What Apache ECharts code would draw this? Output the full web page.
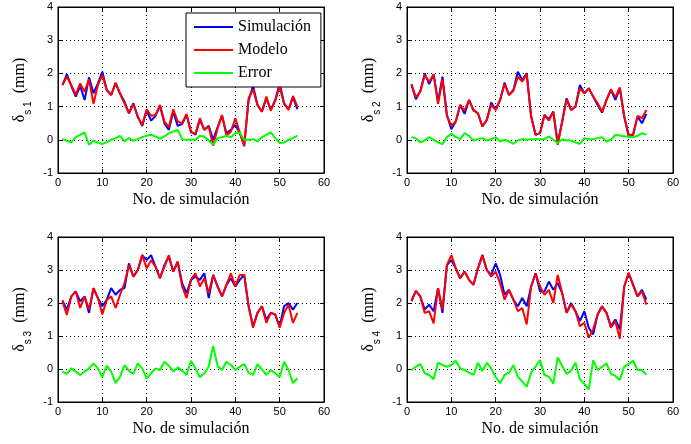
<!DOCTYPE html>
<html>
<head>
<meta charset="utf-8">
<script src="https://cdn.jsdelivr.net/npm/echarts@6/dist/echarts.min.js"></script>
<style>
  html, body {margin: 0; padding: 0; background: #fff;}
  #chart {width: 691px; height: 444px;}
</style>
</head>
<body>
<div id="chart"></div>
<script>
// simulation numbers run 1..54
const xTicks = [0, 10, 20, 30, 40, 50, 60];
const yTicks = [-1, 0, 1, 2, 3, 4];
const seriesNames = ['Simulación', 'Modelo', 'Error'];
const xTitle = 'No. de simulación';

const sim1 = [1.65, 1.97, 1.62, 1.3, 1.62, 1.2, 1.88, 1.4, 1.7, 2.05, 1.5, 1.35, 1.7, 1.4, 1.15, 0.8, 1.1, 0.7, 0.42, 0.88, 0.58, 0.72, 1.02, 0.5, 0.3, 0.85, 0.42, 0.48, 0.75, 0.25, 0.15, 0.6, 0.3, 0.42, 0.0, 0.38, 0.72, 0.2, 0.3, 0.45, 0.2, -0.15, 1.2, 1.62, 1.05, 0.85, 1.25, 0.9, 1.2, 1.7, 1.1, 0.92, 1.28, 0.92];
const mod1 = [1.65, 1.9, 1.65, 1.35, 1.7, 1.45, 1.82, 1.08, 1.65, 1.95, 1.5, 1.35, 1.72, 1.38, 1.1, 0.8, 1.08, 0.68, 0.45, 0.92, 0.72, 0.75, 1.05, 0.55, 0.38, 0.92, 0.55, 0.5, 0.78, 0.22, 0.18, 0.65, 0.3, 0.4, -0.18, 0.35, 0.75, 0.12, 0.25, 0.65, 0.22, -0.2, 1.25, 1.52, 1.05, 0.85, 1.3, 0.88, 1.18, 1.6, 1.08, 0.9, 1.32, 1.0];
const err1 = [0.03, -0.03, -0.08, 0.08, 0.15, 0.22, -0.15, -0.03, -0.08, -0.13, -0.07, 0.0, 0.05, 0.12, -0.05, 0.05, -0.03, 0.02, 0.08, 0.12, 0.15, 0.1, 0.03, 0.1, 0.2, 0.25, 0.3, 0.02, 0.0, 0.0, 0.0, 0.12, 0.1, -0.02, -0.15, 0.05, 0.08, 0.12, 0.08, 0.2, 0.22, 0.0, 0.0, 0.02, -0.05, 0.08, 0.15, 0.22, 0.05, -0.1, -0.08, 0.0, 0.05, 0.13];

const sim2 = [1.67, 1.22, 1.46, 2.0, 1.68, 1.97, 1.15, 1.9, 0.75, 0.32, 0.55, 1.05, 0.78, 1.2, 0.9, 0.8, 0.4, 0.6, 1.12, 0.9, 1.2, 1.72, 1.35, 1.5, 2.05, 1.8, 2.0, 0.7, 0.15, 0.2, 0.75, 0.62, 0.85, -0.1, 0.55, 1.25, 0.9, 1.0, 1.65, 1.4, 1.55, 1.3, 1.05, 0.82, 1.2, 1.5, 1.2, 1.55, 0.7, 0.1, 0.15, 0.7, 0.5, 0.78];
const mod2 = [1.67, 1.28, 1.45, 1.95, 1.75, 1.97, 1.08, 1.82, 0.72, 0.42, 0.55, 1.05, 0.88, 1.2, 0.88, 0.8, 0.4, 0.6, 1.05, 0.9, 1.2, 1.68, 1.35, 1.48, 1.9, 1.75, 1.98, 0.7, 0.15, 0.2, 0.75, 0.58, 0.85, -0.15, 0.55, 1.22, 0.9, 1.0, 1.55, 1.4, 1.55, 1.3, 1.1, 0.85, 1.2, 1.52, 1.28, 1.58, 0.7, 0.15, 0.15, 0.72, 0.65, 0.9];
const err2 = [0.08, 0.05, -0.08, -0.02, 0.08, 0.0, -0.08, -0.13, 0.08, 0.18, 0.08, 0.02, 0.2, 0.12, -0.02, 0.02, 0.05, -0.02, 0.02, 0.08, -0.05, 0.0, -0.05, -0.12, -0.02, 0.02, 0.0, 0.02, 0.02, 0.02, 0.02, 0.1, 0.0, -0.1, 0.02, -0.02, -0.02, -0.08, -0.12, 0.05, 0.02, 0.02, 0.05, 0.08, -0.05, 0.0, 0.15, 0.13, 0.1, 0.1, 0.08, 0.12, 0.2, 0.15];

const sim3 = [2.08, 1.8, 2.2, 2.35, 2.05, 2.2, 1.7, 2.45, 2.15, 1.9, 2.1, 2.45, 2.25, 2.4, 2.45, 3.2, 2.8, 3.0, 3.45, 3.3, 3.45, 3.1, 2.75, 3.15, 3.4, 2.95, 3.25, 2.6, 2.3, 2.7, 2.8, 2.7, 2.9, 2.15, 2.85, 2.5, 2.2, 2.55, 2.75, 2.5, 2.7, 2.85, 1.9, 1.3, 1.7, 1.9, 1.5, 1.7, 1.65, 1.3, 1.9, 2.0, 1.8, 2.0];
const mod3 = [2.05, 1.64, 2.2, 2.35, 1.85, 2.2, 1.8, 2.45, 2.15, 1.65, 2.1, 2.2, 1.85, 2.25, 2.6, 3.15, 2.8, 3.0, 3.45, 3.05, 3.3, 3.1, 2.75, 3.1, 3.45, 2.95, 3.25, 2.5, 2.15, 2.7, 2.9, 2.5, 2.75, 2.3, 2.85, 2.5, 2.2, 2.55, 2.9, 2.5, 2.85, 2.85, 1.9, 1.25, 1.7, 1.9, 1.4, 1.7, 1.65, 1.25, 1.7, 1.95, 1.4, 1.7];
const err3 = [-0.08, -0.15, 0.02, -0.08, -0.18, -0.08, 0.02, 0.17, 0.02, -0.25, 0.1, -0.08, -0.43, -0.23, 0.12, -0.05, -0.15, 0.17, 0.02, -0.28, -0.13, 0.02, -0.03, 0.22, 0.1, -0.08, 0.05, -0.05, -0.18, 0.25, 0.02, -0.25, -0.13, 0.07, 0.7, 0.09, -0.03, 0.22, 0.12, -0.03, 0.07, 0.15, -0.11, -0.18, 0.15, -0.01, -0.18, -0.03, -0.13, -0.25, 0.22, -0.03, -0.43, -0.28];

const sim4 = [2.06, 2.37, 2.2, 1.8, 1.95, 1.75, 2.45, 1.7, 3.15, 3.3, 3.05, 2.75, 2.95, 2.7, 2.55, 3.05, 3.45, 3.0, 2.85, 3.2, 2.85, 2.25, 2.4, 2.1, 1.9, 2.15, 1.9, 2.5, 2.9, 2.35, 2.35, 2.65, 2.4, 2.6, 2.3, 1.7, 2.0, 1.75, 1.45, 1.75, 1.25, 1.05, 1.65, 1.9, 1.7, 1.3, 1.5, 1.2, 2.5, 2.9, 2.55, 2.2, 2.4, 2.1];
const mod4 = [2.06, 2.37, 2.2, 1.7, 1.75, 1.38, 2.45, 1.8, 3.15, 3.45, 3.05, 2.75, 2.95, 2.7, 2.55, 3.05, 3.45, 3.0, 2.8, 2.95, 2.6, 2.1, 2.4, 2.1, 1.75, 1.85, 1.35, 2.5, 2.9, 2.5, 2.25, 2.4, 2.0, 2.85, 2.3, 1.7, 1.95, 1.75, 1.3, 1.4, 0.95, 1.2, 1.65, 1.9, 1.7, 1.25, 1.45, 0.92, 2.5, 2.92, 2.55, 2.2, 2.35, 1.95];
const err4 = [-0.03, 0.07, 0.15, -0.13, -0.18, -0.31, 0.19, 0.12, 0.07, 0.12, 0.25, 0.02, -0.03, -0.11, -0.18, 0.19, -0.06, 0.19, 0.02, -0.25, -0.43, -0.18, -0.11, 0.12, -0.23, -0.38, -0.54, -0.11, 0.07, 0.27, -0.18, -0.23, -0.45, 0.35, 0.09, -0.15, -0.05, 0.19, -0.31, -0.45, -0.62, 0.27, -0.03, 0.07, 0.17, -0.15, -0.21, -0.33, 0.07, 0.15, 0.25, -0.03, -0.03, -0.18];

const panels = [
  {idx: '1', sim: sim1, mod: mod1, err: err1},
  {idx: '2', sim: sim2, mod: mod2, err: err2},
  {idx: '3', sim: sim3, mod: mod3, err: err3},
  {idx: '4', sim: sim4, mod: mod4, err: err4}
];

const colors = ['#0000ff', '#ff0000', '#00ff00'];
const sansFont = '"Liberation Sans", Arial, sans-serif';
const serifFont = '"Liberation Serif", "Times New Roman", serif';

const gridPos = [
  {left: 58, top: 7, width: 266, height: 166},
  {left: 407, top: 7, width: 266, height: 166},
  {left: 58, top: 237, width: 266, height: 165},
  {left: 407, top: 237, width: 266, height: 165}
];

const toPoints = (arr) => arr.map((v, i) => [i + 1, v]);

const axisLine = {show: true, onZero: false, lineStyle: {color: '#000'}};
const axisTick = {show: true, inside: true, length: 4, lineStyle: {color: '#000'}};
const gridLine = {show: true, lineStyle: {color: '#000', type: [1, 3], width: 1}};

const grids = [];
const xAxes = [];
const yAxes = [];
const series = [];

panels.forEach((p, g) => {
  grids.push(Object.assign({
    show: true,
    borderColor: '#000',
    borderWidth: 1,
    backgroundColor: '#fff'
  }, gridPos[g]));

  // bottom x axis with labels and title
  xAxes.push({
    gridIndex: g,
    type: 'value',
    min: xTicks[0],
    max: xTicks[xTicks.length - 1],
    interval: 10,
    position: 'bottom',
    axisLine: axisLine,
    axisTick: axisTick,
    axisLabel: {color: '#000', fontSize: 11, fontFamily: sansFont, margin: 4},
    splitLine: gridLine,
    name: xTitle,
    nameLocation: 'middle',
    nameGap: 19,
    nameTextStyle: {color: '#000', fontSize: 16, fontFamily: serifFont}
  });
  // top x axis, ticks only
  xAxes.push({
    gridIndex: g,
    type: 'value',
    min: xTicks[0],
    max: xTicks[xTicks.length - 1],
    interval: 10,
    position: 'top',
    axisLine: axisLine,
    axisTick: axisTick,
    axisLabel: {show: false},
    splitLine: {show: false}
  });

  yAxes.push({
    gridIndex: g,
    type: 'value',
    min: yTicks[0],
    max: yTicks[yTicks.length - 1],
    interval: 1,
    position: 'left',
    axisLine: axisLine,
    axisTick: axisTick,
    axisLabel: {color: '#000', fontSize: 11, fontFamily: sansFont, margin: 5},
    splitLine: gridLine,
    name: '{d|δ}{s|s ' + p.idx + '}{m|  (mm)}',
    nameLocation: 'middle',
    nameRotate: 90,
    nameGap: 25,
    nameTextStyle: {
      color: '#000',
      rich: {
        d: {fontSize: 16, fontFamily: serifFont, lineHeight: 16, color: '#000'},
        s: {fontSize: 10, fontFamily: sansFont, lineHeight: 26, verticalAlign: 'bottom', color: '#000'},
        m: {fontSize: 16, fontFamily: serifFont, lineHeight: 16, color: '#000'}
      }
    }
  });
  // right y axis, ticks only
  yAxes.push({
    gridIndex: g,
    type: 'value',
    min: yTicks[0],
    max: yTicks[yTicks.length - 1],
    interval: 1,
    position: 'right',
    axisLine: axisLine,
    axisTick: axisTick,
    axisLabel: {show: false},
    splitLine: {show: false}
  });

  [p.sim, p.mod, p.err].forEach((arr, s) => {
    series.push({
      name: seriesNames[s],
      type: 'line',
      xAxisIndex: g * 2,
      yAxisIndex: g * 2,
      data: toPoints(arr),
      symbol: 'none',
      animation: false,
      lineStyle: {color: colors[s], width: 2},
      itemStyle: {color: colors[s]},
      z: 3 + s
    });
  });
});

const chart = echarts.init(document.getElementById('chart'));

chart.setOption({
  backgroundColor: '#fff',
  animation: false,
  legend: {
    data: seriesNames,
    orient: 'vertical',
    left: 186,
    top: 13,
    padding: [5, 10, 5, 8],
    itemGap: 5,
    itemWidth: 39,
    itemHeight: 2,
    icon: 'rect',
    backgroundColor: '#fff',
    borderColor: '#000',
    borderWidth: 1,
    selectedMode: false,
    textStyle: {color: '#000', fontSize: 16, fontFamily: serifFont, lineHeight: 18}
  },
  grid: grids,
  xAxis: xAxes,
  yAxis: yAxes,
  series: series
});
</script>
</body>
</html>
